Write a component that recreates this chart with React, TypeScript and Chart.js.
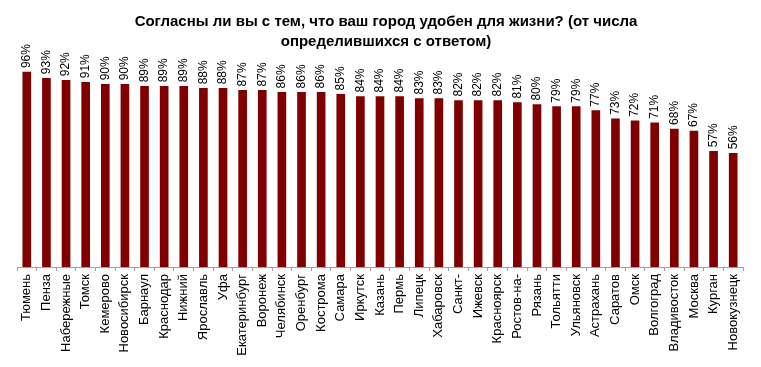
import React, { useEffect, useRef } from "react";
import { Chart, registerables } from "chart.js";

Chart.register(...registerables);

const TITLE = [
  "Согласны ли вы с тем, что ваш город удобен для жизни? (от числа",
  "определившихся с ответом)",
];

const cities = [
  "Тюмень", "Пенза", "Набережные", "Томск", "Кемерово", "Новосибирск", "Барнаул",
  "Краснодар", "Нижний", "Ярославль", "Уфа", "Екатеринбург", "Воронеж", "Челябинск",
  "Оренбург", "Кострома", "Самара", "Иркутск", "Казань", "Пермь", "Липецк", "Хабаровск",
  "Санкт-", "Ижевск", "Красноярск", "Ростов-на-", "Рязань", "Тольятти", "Ульяновск",
  "Астрахань", "Саратов", "Омск", "Волгоград", "Владивосток", "Москва", "Курган",
  "Новокузнецк",
];

const shares = [
  96, 93, 92, 91, 90, 90, 89, 89, 89, 88, 88, 87, 87, 86, 86, 86, 85, 84, 84, 84, 83, 83,
  82, 82, 82, 81, 80, 79, 79, 77, 73, 72, 71, 68, 67, 57, 56,
];

const FONT = "Arial, 'Liberation Sans', sans-serif";

const titlePlugin = {
  id: "customTitle",
  afterDraw(chart: any) {
    const ctx = chart.ctx;
    ctx.save();
    ctx.fillStyle = "#000";
    ctx.font = `bold 15px ${FONT}`;
    ctx.textAlign = "center";
    ctx.textBaseline = "middle";
    TITLE.forEach((line, i) => {
      ctx.fillText(line, 386, 22 + i * 20);
    });
    ctx.restore();
  },
};

const valueLabels = {
  id: "valueLabels",
  afterDatasetsDraw(chart: any) {
    const ctx = chart.ctx;
    const meta = chart.getDatasetMeta(0);
    ctx.save();
    ctx.fillStyle = "#000";
    ctx.font = `12px ${FONT}`;
    ctx.textAlign = "left";
    ctx.textBaseline = "middle";
    meta.data.forEach((bar: any, i: number) => {
      ctx.save();
      ctx.translate(bar.x, bar.y - 4);
      ctx.rotate(-Math.PI / 2);
      ctx.fillText(`${shares[i]}%`, 0, 0);
      ctx.restore();
    });
    ctx.restore();
  },
};

export default function App() {
  const ref = useRef<HTMLCanvasElement>(null);
  useEffect(() => {
    if (!ref.current) return;
    const chart = new Chart(ref.current, {
      type: "bar",
      data: {
        labels: cities,
        datasets: [
          {
            data: shares,
            backgroundColor: "#800000",
            barThickness: 8,
          },
        ],
      },
      options: {
        animation: false,
        responsive: false,
        maintainAspectRatio: false,
        layout: { padding: { left: 17, right: 18, top: 64, bottom: 0 } },
        plugins: {
          legend: { display: false },
          tooltip: { enabled: false },
          title: { display: false },
        },
        scales: {
          x: {
            offset: true,
            grid: {
              display: true,
              drawOnChartArea: false,
              drawTicks: true,
              tickLength: 4,
              color: "#a0a0a0",
              offset: true,
            },
            border: { display: true, color: "#a0a0a0" },
            ticks: {
              autoSkip: false,
              maxRotation: 90,
              minRotation: 90,
              padding: 3,
              color: "#000",
              font: { family: FONT, size: 13 },
            },
            afterFit: (scale: any) => {
              scale.height = 100;
            },
          },
          y: {
            display: false,
            min: 0,
            max: 100,
          },
        },
      },
      plugins: [valueLabels, titlePlugin],
    });
    return () => chart.destroy();
  }, []);
  return (
    <div style={{ position: "fixed", left: 0, top: 0, width: 761, height: 367, background: "#fff" }}>
      <canvas ref={ref} width={761} height={367} style={{ width: 761, height: 367 }} />
    </div>
  );
}
